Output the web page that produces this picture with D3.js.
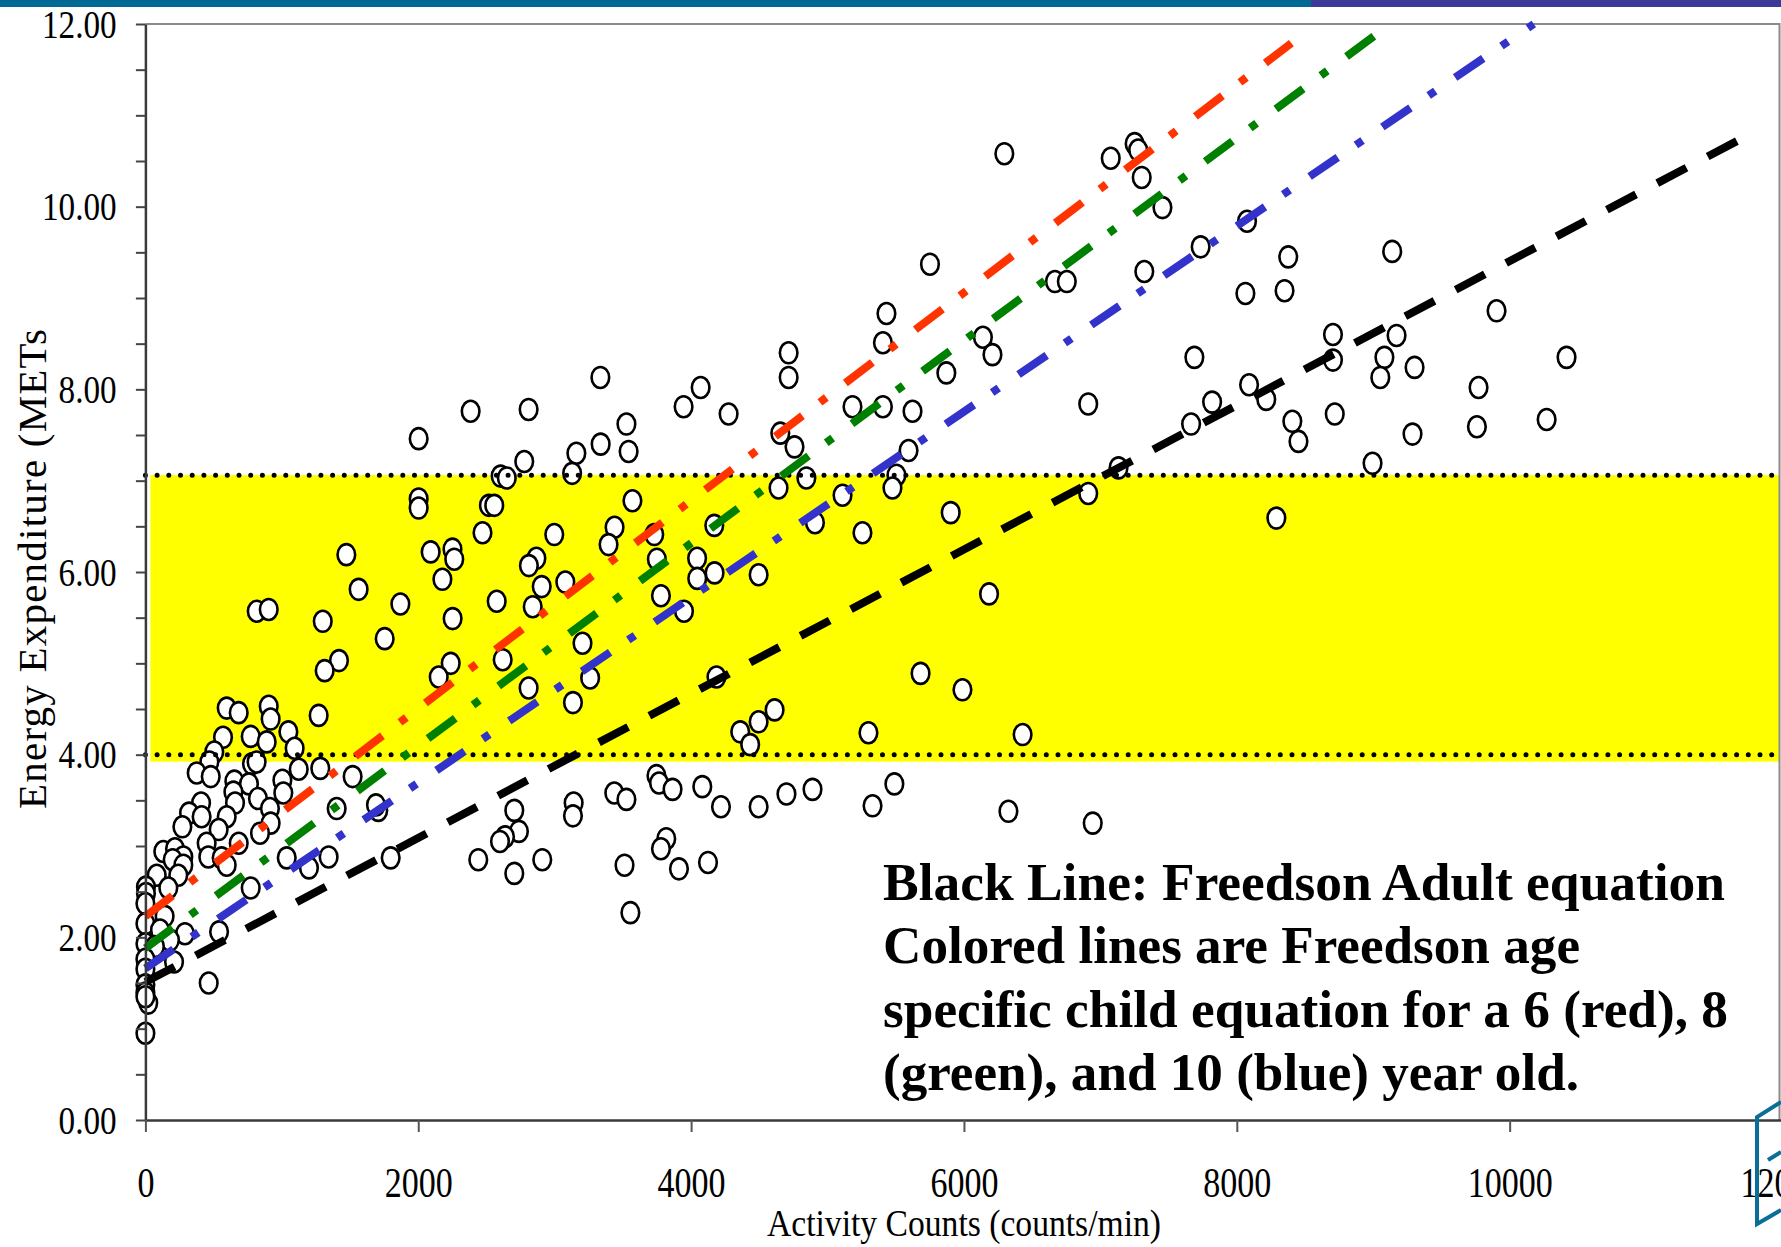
<!DOCTYPE html>
<html>
<head>
<meta charset="utf-8">
<script src="https://cdn.jsdelivr.net/npm/d3@7"></script>
<style>
  html, body { margin: 0; padding: 0; background: #fff; overflow: hidden; }
  svg { display: block; font-family: "Liberation Serif", "Times New Roman", serif; }
</style>
</head>
<body>
<svg id="chart" width="1781" height="1247"></svg>
<script>
const activityCounts = [
  2003, 2384, 2809, 3335, 3945, 3526, 3337, 3542, 3159, 2777, 2604, 2649, 3128, 2003, 2003,
  2518, 2557, 3570, 2471, 2997, 3439, 3395, 3730, 3749, 1473, 2091, 2251, 2264, 2866, 2811,
  2905, 1563, 2177, 1869, 2575, 2839, 816, 904, 1300, 2252, 1754, 2619, 2238, 2150, 1419,
  1314, 2809, 1270, 596, 684, 904, 918, 569, 772, 889, 1048, 1094, 505, 469, 376,
  479, 781, 815, 1124, 1282, 1519, 652, 759, 1004, 1011, 645, 825, 657, 408, 913,
  320, 271, 412, 596, 918, 840, 537, 1402, 1707, 1690, 449, 684, 461, 559, 596,
  131, 217, 278, 200, 278, 1036, 1199, 1343, 83, 241, 168, 4, 4, 0, 772,
  141, 0, 107, 290, 540, 180, 0, 70, 210, 0, 0, 0, 0, 21, 0,
  464, 0, 2440, 2704, 2704, 2738, 2636, 2599, 1798, 2909,
  6296, 7076, 7251, 7277, 7303, 7455, 5751, 6667, 6754, 7322, 7735, 8075, 8063, 5432, 5406,
  6139, 6209, 5871, 4715, 4715, 4070, 4275, 5183, 5406, 5623, 6911, 7689, 7819, 7665, 8090,
  4654, 4758, 5594, 4845, 4641, 5505, 5476, 5110, 7133, 6911, 5903, 4908, 5256, 4170, 4044,
  8377, 9139, 8350, 9904, 8705, 9171, 8705, 9082, 9052, 9303, 10417, 8216, 9772, 8407, 8452,
  8718, 9288, 9760, 10271, 8995, 8290,
  3078, 4045, 4172, 4495, 3779, 3948, 3204, 3260, 3134, 4186, 6184, 5682, 5989, 4612, 4495,
  4360, 4433, 5300, 6430, 3746, 3765, 3864, 4082, 4219, 4495, 4699, 4890, 5330, 5490, 3437,
  3526, 3139, 3134, 3818, 3779, 3512, 3911, 4124, 3555, 6326, 6944
];
const energyMETs = [
  7.46, 7.76, 7.78, 8.13, 7.81, 7.62, 7.40, 7.32, 7.30, 7.21, 7.05, 7.03, 7.08, 6.80, 6.70,
  6.73, 6.73, 6.78, 6.43, 6.41, 6.49, 6.30, 6.41, 6.14, 6.19, 6.22, 6.25, 6.14, 6.15, 6.07,
  5.84, 5.81, 5.92, 5.65, 5.68, 5.62, 5.57, 5.59, 5.46, 5.49, 5.27, 5.04, 5.00, 4.85, 5.03,
  4.92, 4.73, 4.43, 4.51, 4.46, 4.53, 4.39, 4.19, 4.20, 4.14, 4.25, 4.07, 4.03, 3.92, 3.80,
  3.76, 3.90, 3.92, 3.84, 3.85, 3.76, 3.71, 3.68, 3.72, 3.58, 3.59, 3.52, 3.47, 3.47, 3.41,
  3.36, 3.21, 3.32, 3.32, 3.25, 3.14, 3.18, 3.41, 3.39, 3.45, 3.03, 3.03, 2.88, 2.87, 2.79,
  2.94, 2.97, 2.88, 2.85, 2.79, 2.87, 2.76, 2.88, 2.68, 2.68, 2.54, 2.55, 2.48, 2.37, 2.54,
  2.23, 2.15, 2.08, 2.04, 2.06, 1.97, 1.93, 1.90, 1.73, 1.76, 1.65, 1.48, 1.39, 1.28, 1.35,
  1.50, 0.95, 2.85, 2.70, 3.39, 3.16, 3.10, 3.05, 2.87, 2.85,
  10.58, 10.53, 10.69, 10.62, 10.32, 9.99, 9.37, 9.18, 9.18, 9.29, 9.56, 9.84, 9.05, 8.83, 8.51,
  8.57, 8.38, 8.18, 8.40, 8.13, 8.02, 7.73, 7.81, 7.81, 7.76, 7.84, 8.35, 7.86, 7.62, 8.05,
  7.52, 7.37, 7.33, 7.03, 6.92, 7.06, 6.92, 6.84, 7.14, 6.86, 6.65, 6.54, 6.43, 6.51, 6.15,
  9.45, 9.51, 9.08, 8.86, 8.60, 8.59, 8.32, 8.35, 8.13, 8.24, 8.35, 7.89, 8.02, 7.65, 7.43,
  7.73, 7.51, 7.59, 7.67, 7.19, 6.59,
  5.89, 5.93, 5.99, 5.97, 5.74, 5.57, 5.22, 4.84, 4.57, 4.85, 5.76, 4.89, 4.71, 4.49, 4.36,
  4.25, 4.11, 4.24, 4.22, 3.77, 3.69, 3.62, 3.65, 3.43, 3.43, 3.57, 3.62, 3.44, 3.68, 3.58,
  3.51, 3.47, 3.33, 3.08, 2.97, 2.79, 2.75, 2.82, 2.27, 3.38, 3.25
];

// moderate-intensity band (METs)
const bandLimits = [4.0, 7.06];

// prediction lines: start and end points [counts, METs]
const lineNames = ["adult", "age6", "age8", "age10"];
const lineStarts = [[0, 1.51], [0, 2.23], [0, 1.88], [0, 1.66]];
const lineEnds = [[11820, 10.84], [8400, 11.79], [9125, 12.0], [10177, 12.0]];

const xTickValues = [0, 2000, 4000, 6000, 8000, 10000, 12000];
const yTickValues = d3.range(0, 12.001, 0.5);
const yLabelValues = [0, 2, 4, 6, 8, 10, 12];

const legendLines = [
  "Black Line: Freedson Adult equation",
  "Colored lines are Freedson age",
  "specific child equation for a 6 (red), 8",
  "(green), and 10 (blue) year old."
];

const lineStyle = {
  adult: { color: "#000000", dash: "33,24" },
  age6: { color: "#ff3300", dash: "34,22,8,24" },
  age8: { color: "#008000", dash: "34,22,8,24" },
  age10: { color: "#3333cc", dash: "34,22,8,24" }
};

const svg = d3.select("#chart");
const W = 1781, H = 1247;
const plotRight = 1779.5;

const x = d3.scaleLinear().domain([0, 12000]).range([145.4, 1782.5]);
const y = d3.scaleLinear().domain([0, 12]).range([1120, 24]);

svg.append("rect").attr("width", W).attr("height", H).attr("fill", "#fff");

// banner strip at the top
svg.append("rect").attr("x", 0).attr("y", 0).attr("width", 1311).attr("height", 7).attr("fill", "#006a94");
svg.append("rect").attr("x", 1311).attr("y", 0).attr("width", W - 1311).attr("height", 7).attr("fill", "#3b3a98");

// yellow band
svg.append("rect")
  .attr("x", x(0) + 5)
  .attr("y", y(bandLimits[1]))
  .attr("width", plotRight - x(0) - 5)
  .attr("height", y(bandLimits[0]) - y(bandLimits[1]) + 7)
  .attr("fill", "#ffff00");

// plot frame (top and right)
svg.append("path")
  .attr("d", `M${x(0)},${y(12)}H${plotRight}V${y(0)}`)
  .attr("fill", "none")
  .attr("stroke", "#8a8a8a")
  .attr("stroke-width", 2);

// data points
const points = activityCounts.map((c, i) => [c, energyMETs[i]]);
svg.append("g")
  .selectAll("ellipse")
  .data(points)
  .join("ellipse")
  .attr("cx", d => x(d[0]))
  .attr("cy", d => y(d[1]))
  .attr("rx", 8.8)
  .attr("ry", 10.5)
  .attr("fill", "#fff")
  .attr("stroke", "#000")
  .attr("stroke-width", 2.6);

// dotted limits of the band
svg.append("g")
  .selectAll("line")
  .data(bandLimits)
  .join("line")
  .attr("x1", x(0))
  .attr("x2", W)
  .attr("y1", d => y(d))
  .attr("y2", d => y(d))
  .attr("stroke", "#000")
  .attr("stroke-width", 5)
  .attr("stroke-linecap", "round")
  .attr("stroke-dasharray", "0,11.7");

// prediction lines
const line = d3.line().x(d => x(d[0])).y(d => y(d[1]));
svg.append("g")
  .attr("fill", "none")
  .selectAll("path")
  .data(lineNames.map((n, i) => ({ name: n, pts: [lineStarts[i], lineEnds[i]] })))
  .join("path")
  .attr("d", d => line(d.pts))
  .attr("stroke", d => lineStyle[d.name].color)
  .attr("stroke-width", 8)
  .attr("stroke-dasharray", d => lineStyle[d.name].dash);

// axes
const sx = 0.81;
const yAxis = svg.append("g")
  .attr("transform", `translate(${x(0)},0)`)
  .call(d3.axisLeft(y)
    .tickValues(yTickValues)
    .tickSize(9.5)
    .tickSizeOuter(0)
    .tickPadding(19)
    .tickFormat(d => yLabelValues.includes(d) ? d.toFixed(2) : ""));
yAxis.select(".domain").attr("stroke", "#3a3a3a").attr("stroke-width", 2.5);
yAxis.selectAll(".tick line").attr("stroke", "#444").attr("stroke-width", 2);
yAxis.selectAll(".tick text")
  .attr("x", -28.7 / sx)
  .attr("transform", `scale(${sx},1)`)
  .attr("fill", "#000")
  .style("font-size", "41px")
  .style("font-family", "Liberation Serif, serif");

const xAxis = svg.append("g")
  .attr("transform", `translate(0,${y(0)})`)
  .call(d3.axisBottom(x)
    .tickValues(xTickValues)
    .tickSize(12)
    .tickSizeOuter(0)
    .tickPadding(35)
    .tickFormat(d3.format("d")));
xAxis.select(".domain").attr("stroke", "#3a3a3a").attr("stroke-width", 2.5);
xAxis.selectAll(".tick line").attr("stroke", "#555").attr("stroke-width", 2);
xAxis.selectAll(".tick text")
  .attr("x", 0)
  .attr("transform", `scale(${sx},1)`)
  .attr("fill", "#000")
  .style("font-size", "42px")
  .style("font-family", "Liberation Serif, serif");

// axis titles
svg.append("text")
  .attr("x", 964)
  .attr("y", 1236)
  .attr("text-anchor", "middle")
  .attr("textLength", 394)
  .attr("lengthAdjust", "spacingAndGlyphs")
  .style("font-size", "38px")
  .text("Activity Counts (counts/min)");

svg.append("text")
  .attr("transform", "translate(46,809) rotate(-90)")
  .attr("textLength", 480)
  .attr("lengthAdjust", "spacing")
  .style("font-size", "41px")
  .text("Energy Expenditure (METs");

// note text
const legendWidths = [842, 697, 845, 696];
svg.append("g")
  .selectAll("text")
  .data(legendLines)
  .join("text")
  .attr("x", 883)
  .attr("y", (d, i) => 899.6 + i * 63.5)
  .attr("textLength", (d, i) => legendWidths[i])
  .attr("lengthAdjust", "spacingAndGlyphs")
  .style("font-size", "53px")
  .style("font-weight", "bold")
  .text(d => d);

// fragment of the slide logo in the corner
svg.append("path")
  .attr("d", "M1781,1102L1757,1117V1224L1781,1210M1768,1160L1781,1152")
  .attr("fill", "none")
  .attr("stroke", "#0a6f96")
  .attr("stroke-width", 4);
</script>
</body>
</html>
